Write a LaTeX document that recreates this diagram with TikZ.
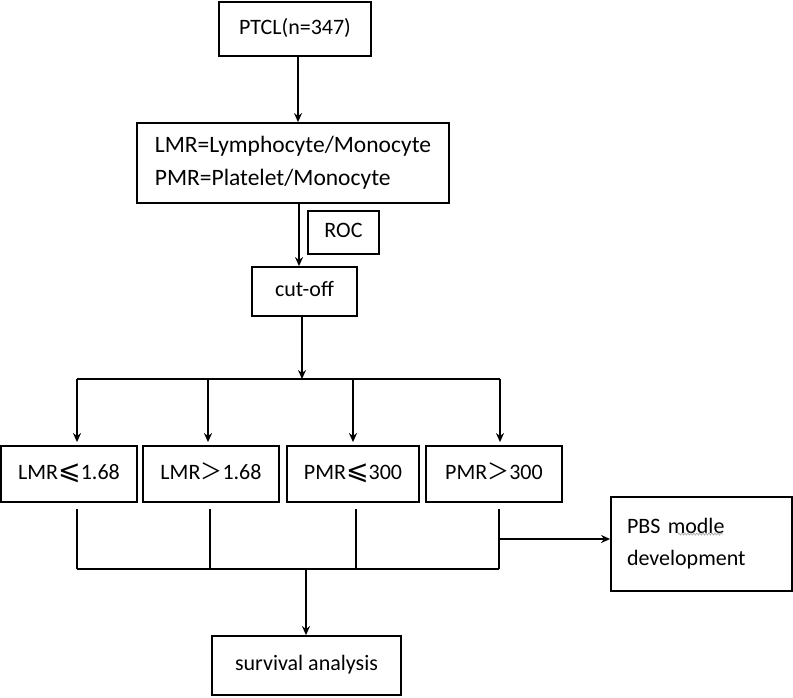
\documentclass[tikz,border=0pt]{standalone}
\usepackage{fontspec}
\setmainfont{Carlito}
\newfontfamily\dejavu{DejaVu Sans}
\newfontfamily\cjkfont{Noto Sans CJK SC}
\usetikzlibrary{arrows.meta,positioning,decorations.pathmorphing}
\newcommand{\LeSign}{\smash{\fontsize{27pt}{27pt}\dejavu\char"2A7D}}
\newcommand{\GtSign}{\smash{\cjkfont\char"FF1E}}

\begin{document}
\begin{tikzpicture}[x=1pt, y=-1pt, font=\fontsize{22pt}{32pt}\selectfont,
    box/.style={draw, line width=1.8pt, inner sep=0pt, align=center},
    cell/.style={box, text height=15pt, text depth=5pt},
    arr/.style={-{Stealth[length=9pt,width=8pt]}, line width=1.8pt},
    link/.style={line width=1.8pt}]
    \useasboundingbox (0,0) rectangle (793,697);

    \node[cell, minimum width=152pt, minimum height=54pt] (ptcl) at (295,29) {PTCL(n=347)};
    \node[box, minimum width=312pt, minimum height=80pt, align=left,
          font=\fontsize{23.5pt}{33pt}\selectfont] (ratio) at (293,163)
          {LMR=Lymphocyte/Monocyte\\PMR=Platelet/Monocyte};
    \node[cell, minimum width=71pt, minimum height=43pt] (roc) at (343.5,232.5) {ROC};
    \node[cell, minimum width=105pt, minimum height=49pt] (cutoff) at (304.5,291.5) {cut-off};

    \node[cell, minimum width=136pt, minimum height=56pt] (lmrle) at (69,474) {LMR\LeSign1.68};
    \node[cell, minimum width=136pt, minimum height=56pt] (lmrgt) at (211,474) {LMR\GtSign1.68};
    \node[cell, minimum width=132pt, minimum height=56pt] (pmrle) at (353,474) {PMR\LeSign300};
    \node[cell, minimum width=136pt, minimum height=56pt] (pmrgt) at (494,474) {PMR\GtSign300};

    \node[box, minimum width=181pt, minimum height=94pt, align=left, inner xsep=16pt,
          text width=149pt] (pbs) at (701.5,544) {PBS modle\\development};
    \node[cell, minimum width=189pt, minimum height=59pt] (surv) at (306.5,665.5) {survival analysis};

    \coordinate (split) at (302,379);
    \coordinate (b1) at (77,379);
    \coordinate (b2) at (208,379);
    \coordinate (b3) at (353,379);
    \coordinate (b4) at (500,379);
    \coordinate (j1) at (77,569);
    \coordinate (j2) at (210,569);
    \coordinate (j3) at (356,569);
    \coordinate (j4) at (499,569);
    \coordinate (merge) at (306,569);
    \coordinate (side) at (499,539);

    \draw[arr] ([xshift=3pt]ptcl.south) -- ([xshift=3pt]ptcl.south |- ratio.north);
    \draw[arr] ([xshift=6pt]ratio.south) -- ([xshift=6pt]ratio.south |- cutoff.north);
    \draw[arr] (cutoff.south -| split) -- (split);
    \draw[link] (b1) -- (b4);
    \draw[arr, shorten >=3pt] (b1) -- (b1 |- lmrle.north);
    \draw[arr, shorten >=3pt] (b2) -- (b2 |- lmrgt.north);
    \draw[arr, shorten >=3pt] (b3) -- (b3 |- pmrle.north);
    \draw[arr, shorten >=3pt] (b4) -- (b4 |- pmrgt.north);

    \draw[link, shorten <=6pt] (j1 |- lmrle.south) -- (j1);
    \draw[link, shorten <=6pt] (j2 |- lmrgt.south) -- (j2);
    \draw[link, shorten <=6pt] (j3 |- pmrle.south) -- (j3);
    \draw[link, shorten <=6pt] (j4 |- pmrgt.south) -- (j4);
    \draw[link] (j1) -- (j4);
    \draw[arr] (merge) -- (merge |- surv.north);
    \draw[arr] (side) -- (side -| pbs.west);

    \draw[gray!60, line width=0.8pt, decorate,
          decoration={snake, amplitude=1pt, segment length=3pt}] (678,534) -- (723,534);
\end{tikzpicture}
\end{document}
